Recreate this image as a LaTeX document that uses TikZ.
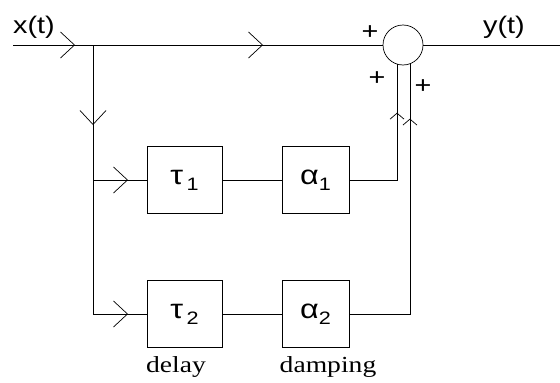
\documentclass[tikz,border=0pt]{standalone}
\usepackage{fontspec}
\setmainfont{Liberation Sans}
\newfontfamily\capfont{Liberation Serif}
\usetikzlibrary{arrows.meta,decorations.markings}
\newcommand{\wide}[1]{\scalebox{1.2}[1]{#1}}
\newcommand{\gsub}[3]{\wide{#1\kern#3\raisebox{-6pt}{\fontsize{18}{18}\selectfont#2}}}

\begin{document}
\begin{tikzpicture}[x=1pt,y=-1pt]
    \tikzset{%
      wire/.style={line width=0.7pt},
      blk/.style={draw, line width=0.7pt, minimum height=67pt,
        inner sep=0pt, font=\fontsize{27}{28}\selectfont},
      sumnode/.style={circle, draw, line width=0.7pt, minimum size=40pt,
        inner sep=0pt},
      sig/.style={font=\fontsize{24}{26}\selectfont, inner sep=0pt},
      sgn/.style={font=\fontsize{24}{26}\selectfont, inner sep=0pt},
      caption/.style={font=\capfont\fontsize{23}{26}\selectfont, anchor=base,
        inner sep=0pt},
      bigmark/.style={postaction={decorate}, decoration={markings,
        mark=at position #1 with {\arrow{Straight Barb[length=14pt,width=26pt]}}}},
      smallmark/.style={postaction={decorate}, decoration={markings,
        mark=at position #1 with {\arrow{Straight Barb[length=6pt,width=14pt]}}}},
    }
    \useasboundingbox (0,0) rectangle (560,383);

    \coordinate (xin) at (13,45);
    \coordinate (br) at (93,45);
    \coordinate (mid) at (93,180);
    \coordinate (low) at (93,314);
    \coordinate (yout) at (560,45);
    \node[sumnode] (sum) at (403,45) {};

    \node[blk, minimum width=75pt] (t1) at (184.5,180) {\gsub{τ}{1}{3pt}};
    \node[blk, minimum width=67pt] (a1) at (315.5,180) {\gsub{α}{1}{0pt}};
    \node[blk, minimum width=75pt] (t2) at (184.5,314) {\gsub{τ}{2}{3pt}};
    \node[blk, minimum width=67pt] (a2) at (315.5,314) {\gsub{α}{2}{0pt}};

    \node[sig, anchor=base west] (xlbl) at (13,33) {\wide{x(t)}};
    \node[sig, anchor=base west] (ylbl) at (483,33) {\wide{y(t)}};
    \node[sgn] (p0) at (370,33) {\wide{+}};
    \node[sgn] (p1) at (377,79) {\wide{+}};
    \node[sgn] (p2) at (423,87) {\wide{+}};
    \node[caption] (dly) at (176,372) {\wide{delay}};
    \node[caption] (dmp) at (328,372) {\wide{damping}};

    % direct path and branches
    \draw [wire, bigmark=62pt] (xin) -- (br);
    \draw [wire, bigmark=170pt] (br) -- (sum);
    \draw [wire] (sum) -- (yout);
    \draw [wire, bigmark=80pt] (br) -- (low);
    \draw [wire, bigmark=35pt] (mid) -- (t1);
    \draw [wire, bigmark=35pt] (low) -- (t2);
    \draw [wire] (t1) -- (a1);
    \draw [wire] (t2) -- (a2);

    % back into the sum
    \draw [wire, smallmark=115pt] (a1.east) -- (a1.east -| sum.-107) -- (sum.-107);
    \draw [wire, smallmark=256pt] (a2.east) -- (a2.east -| sum.-70) -- (sum.-70);
  \end{tikzpicture}
\end{document}
